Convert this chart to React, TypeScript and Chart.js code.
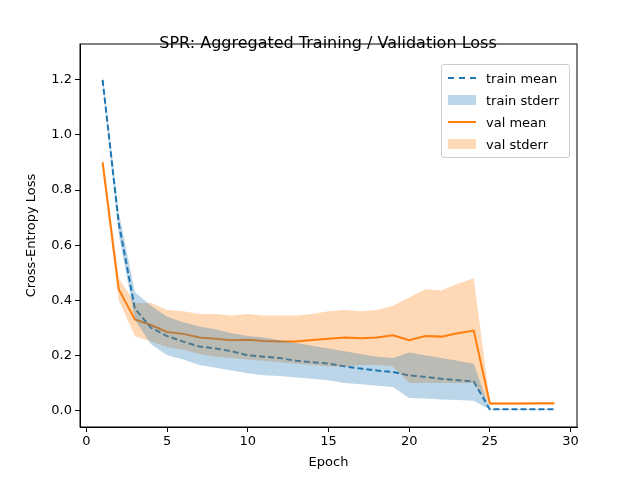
import { useEffect, useRef } from "react"
import { Chart, registerables } from "chart.js"

Chart.register(...registerables)

const epochs = [1, 2, 3, 4, 5, 6, 7, 8, 9, 10, 11, 12, 13, 14, 15, 16, 17, 18, 19, 20, 21, 22, 23, 24, 25, 26, 27, 28, 29]
const trainMean = [1.2, 0.68, 0.37, 0.3, 0.27, 0.25, 0.232, 0.225, 0.215, 0.2, 0.195, 0.19, 0.18, 0.175, 0.17, 0.16, 0.152, 0.145, 0.14, 0.127, 0.122, 0.115, 0.11, 0.105, 0.004, 0.004, 0.004, 0.004, 0.004]
const trainLow = [1.18, 0.64, 0.33, 0.24, 0.2, 0.185, 0.165, 0.155, 0.145, 0.135, 0.128, 0.125, 0.12, 0.115, 0.11, 0.1, 0.095, 0.09, 0.085, 0.045, 0.043, 0.04, 0.038, 0.035, 0.003, 0.003, 0.003, 0.003, 0.003]
const trainHigh = [1.22, 0.72, 0.43, 0.38, 0.34, 0.32, 0.305, 0.295, 0.28, 0.27, 0.265, 0.255, 0.245, 0.235, 0.225, 0.215, 0.205, 0.195, 0.19, 0.21, 0.2, 0.19, 0.18, 0.17, 0.005, 0.005, 0.005, 0.005, 0.005]
const valMean = [0.9, 0.44, 0.33, 0.31, 0.285, 0.278, 0.265, 0.26, 0.255, 0.257, 0.252, 0.25, 0.25, 0.256, 0.26, 0.265, 0.262, 0.265, 0.273, 0.255, 0.27, 0.268, 0.28, 0.29, 0.025, 0.025, 0.025, 0.026, 0.026]
const valLow = [0.87, 0.4, 0.27, 0.25, 0.23, 0.22, 0.205, 0.195, 0.19, 0.185, 0.18, 0.175, 0.17, 0.165, 0.16, 0.16, 0.165, 0.165, 0.16, 0.1, 0.1, 0.1, 0.1, 0.1, 0.02, 0.02, 0.02, 0.02, 0.02]
const valHigh = [0.93, 0.48, 0.39, 0.39, 0.365, 0.36, 0.35, 0.35, 0.345, 0.35, 0.345, 0.345, 0.345, 0.35, 0.36, 0.365, 0.36, 0.365, 0.38, 0.41, 0.44, 0.435, 0.46, 0.48, 0.03, 0.03, 0.03, 0.03, 0.03]
const xTicks = [0, 5, 10, 15, 20, 25, 30]
const yTicks = [0, 0.2, 0.4, 0.6, 0.8, 1.0, 1.2]

const pts = (ys: number[]) => epochs.map((x, i) => ({ x, y: ys[i] }))
const FONT = "'DejaVu Sans', sans-serif"

const frame = {
  id: "frame",
  afterDraw(chart: Chart) {
    const { ctx, chartArea: a } = chart
    ctx.save()
    ctx.strokeStyle = "#000"
    ctx.lineWidth = 1
    ctx.strokeRect(a.left, a.top, a.right - a.left, a.bottom - a.top)
    ctx.restore()
  },
}

export default function App() {
  const ref = useRef<HTMLCanvasElement>(null)

  useEffect(() => {
    if (!ref.current) return
    const chart = new Chart(ref.current, {
      type: "line",
      data: {
        datasets: [
          { data: pts(trainLow), borderWidth: 0, pointRadius: 0, fill: false, backgroundColor: "rgba(31,119,180,0.3)" },
          { data: pts(trainHigh), borderWidth: 0, pointRadius: 0, fill: "-1", backgroundColor: "rgba(31,119,180,0.3)" },
          { data: pts(valLow), borderWidth: 0, pointRadius: 0, fill: false, backgroundColor: "rgba(255,127,14,0.3)" },
          { data: pts(valHigh), borderWidth: 0, pointRadius: 0, fill: "-1", backgroundColor: "rgba(255,127,14,0.3)" },
          { data: pts(trainMean), borderColor: "#1f77b4", borderWidth: 2, borderDash: [6, 3], pointRadius: 0, fill: false },
          { data: pts(valMean), borderColor: "#ff7f0e", borderWidth: 2, pointRadius: 0, fill: false },
        ],
      },
      options: {
        animation: false,
        responsive: false,
        layout: { padding: { top: 44, right: 63, left: 22, bottom: 8 } },
        plugins: { legend: { display: false }, tooltip: { enabled: false } },
        scales: {
          x: {
            type: "linear",
            min: -0.4,
            max: 30.4,
            afterBuildTicks: (s: any) => { s.ticks = xTicks.map((v) => ({ value: v })) },
            afterFit: (s: any) => { s.height = 45 },
            grid: { drawOnChartArea: false, color: "#000", tickLength: 5 },
            border: { color: "#000" },
            ticks: { color: "#000", font: { family: FONT, size: 13 }, padding: 2 },
            title: { display: true, text: "Epoch", color: "#000", font: { family: FONT, size: 13 }, padding: 2 },
          },
          y: {
            min: -0.06,
            max: 1.33,
            afterBuildTicks: (s: any) => { s.ticks = yTicks.map((v) => ({ value: v })) },
            afterFit: (s: any) => { s.width = 58 },
            grid: { drawOnChartArea: false, color: "#000", tickLength: 5 },
            border: { color: "#000" },
            ticks: { color: "#000", font: { family: FONT, size: 13 }, padding: 3, callback: (v: any) => Number(v).toFixed(1) },
            title: { display: true, text: "Cross-Entropy Loss", color: "#000", font: { family: FONT, size: 13 }, padding: 2 },
          },
        },
      },
      plugins: [frame],
    } as any)
    return () => chart.destroy()
  }, [])

  const row = (sw: JSX.Element, label: string) => (
    <div style={{ display: "flex", alignItems: "center", height: 22 }}>
      <div style={{ width: 28, marginRight: 10, display: "flex", alignItems: "center" }}>{sw}</div>
      <span>{label}</span>
    </div>
  )

  return (
    <div style={{ position: "fixed", left: 0, top: 0, width: 640, height: 480, background: "#fff", fontFamily: FONT }}>
      <canvas ref={ref} width={640} height={480} />
      <div style={{ position: "absolute", left: 0, width: 656, top: 33, textAlign: "center", fontSize: 16, color: "#000" }}>
        SPR: Aggregated Training / Validation Loss
      </div>
      <div style={{ position: "absolute", left: 441, top: 64, width: 114, padding: "2px 7px 2px 6px", border: "1px solid #ccc", borderRadius: 3, background: "rgba(255,255,255,0.8)", fontSize: 13, color: "#000" }}>
        {row(<div style={{ width: 28, borderTop: "2px dashed #1f77b4" }} />, "train mean")}
        {row(<div style={{ width: 28, height: 10, background: "rgba(31,119,180,0.3)" }} />, "train stderr")}
        {row(<div style={{ width: 28, borderTop: "2px solid #ff7f0e" }} />, "val mean")}
        {row(<div style={{ width: 28, height: 10, background: "rgba(255,127,14,0.3)" }} />, "val stderr")}
      </div>
    </div>
  )
}
